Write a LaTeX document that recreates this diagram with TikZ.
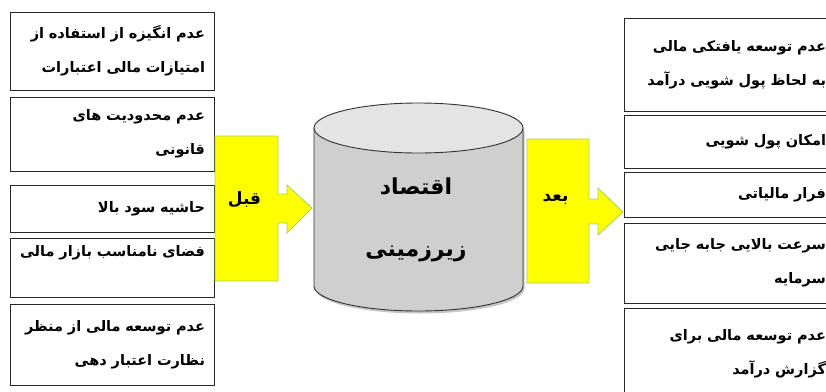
\documentclass[tikz,border=0pt]{standalone}
\usepackage{fontspec}
\usepackage{tikz}
\usetikzlibrary{shadows}
\newfontfamily\arabicfont[Script=Arabic]{DejaVu Sans}
\TeXXeTstate=1
\newcommand{\fatxt}[1]{\beginR #1\endR\kern5pt}
\definecolor{calloutyellow}{RGB}{255,255,0}
\definecolor{calloutgreen}{RGB}{160,210,100}
\definecolor{cylbody}{RGB}{208,207,208}
\definecolor{cyltop}{RGB}{228,228,228}
\tikzset{
  causebox/.style={draw=black!85, line width=1pt, text width=196pt, align=right,
    inner sep=0pt, minimum width=204pt,
    font=\arabicfont\bfseries\fontsize{14.5}{34}\selectfont},
  effectbox/.style={causebox, text width=202pt, minimum width=212pt},
  callout/.style={fill=calloutyellow, draw=calloutgreen, line width=0.8pt},
  calloutlabel/.style={font=\arabicfont\bfseries\fontsize{17}{20}\selectfont},
  cyltext/.style={font=\arabicfont\bfseries\fontsize{22}{24}\selectfont}
}
\begin{document}
\begin{tikzpicture}[x=1pt, y=-1pt]
  \clip (0,0) rectangle (826,391);
  \fill[white] (0,0) rectangle (826,391);

  % Causes (before)
  \node[causebox, minimum height=78pt] (c1) at (112,51) {\fatxt{عدم انگیزه از استفاده از}\\\fatxt{امتیازات مالی اعتبارات}};
  \node[causebox, minimum height=74pt] (c2) at (112,134) {\fatxt{عدم محدودیت های}\\\fatxt{قانونی}};
  \node[causebox, minimum height=47pt] (c3) at (112,208.5) {\fatxt{حاشیه سود بالا}};
  \node[causebox, minimum height=59pt] (c4) at (112,267.5) {\fatxt{فضای نامناسب بازار مالی}\\\mbox{}};
  \node[causebox, minimum height=81pt] (c5) at (112,344.5) {\fatxt{عدم توسعه مالی از منظر}\\\fatxt{نظارت اعتبار دهی}};

  % Effects (after)
  \node[effectbox, minimum height=93pt] (e1) at (730,64.5) {\fatxt{عدم توسعه یافتکی مالی}\\\fatxt{به لحاظ پول شویی درآمد}};
  \node[effectbox, minimum height=53pt] (e2) at (730,141.5) {\fatxt{امکان پول شویی}};
  \node[effectbox, minimum height=45pt] (e3) at (730,194.5) {\fatxt{فرار مالیاتی}};
  \node[effectbox, minimum height=80pt] (e4) at (730,263) {\fatxt{سرعت بالایی جابه جایی}\\\fatxt{سرمایه}};
  \node[effectbox, minimum height=92pt] (e5) at (730,354) {\fatxt{عدم توسعه مالی برای}\\\fatxt{گزارش درآمد}};

  % Arrow callouts
  \draw[callout] (215,136) -- (278,136) -- (278,194) -- (287,194) -- (287,185) -- (312,208)
    -- (287,233) -- (287,223) -- (278,223) -- (278,281) -- (215,281) -- cycle;
  \draw[callout] (527,139) -- (589,139) -- (589,199) -- (598,199) -- (598,188) -- (623,212)
    -- (598,235) -- (598,224) -- (589,224) -- (589,283) -- (527,283) -- cycle;
  \node[calloutlabel] (before) at (247,200) {\fatxt{قبل}};
  \node[calloutlabel] (after) at (558,199) {\fatxt{بعد}};

  % Cylinder
  \draw[fill=cylbody, draw=black!80, line width=0.9pt,
    drop shadow={shadow xshift=1.5pt, shadow yshift=-2.5pt, opacity=0.45}]
    (314,128) -- (314,286) arc (180:0:104.5 and 25) -- (523,128) -- cycle;
  \draw[fill=cyltop, draw=black!80, line width=0.9pt] (418.5,128) ellipse (104.5 and 25);
  \node[cyltext] (econ1) at (418.5,186) {\fatxt{اقتصاد}};
  \node[cyltext] (econ2) at (418.5,254) {\fatxt{زیرزمینی}};
\end{tikzpicture}
\end{document}
